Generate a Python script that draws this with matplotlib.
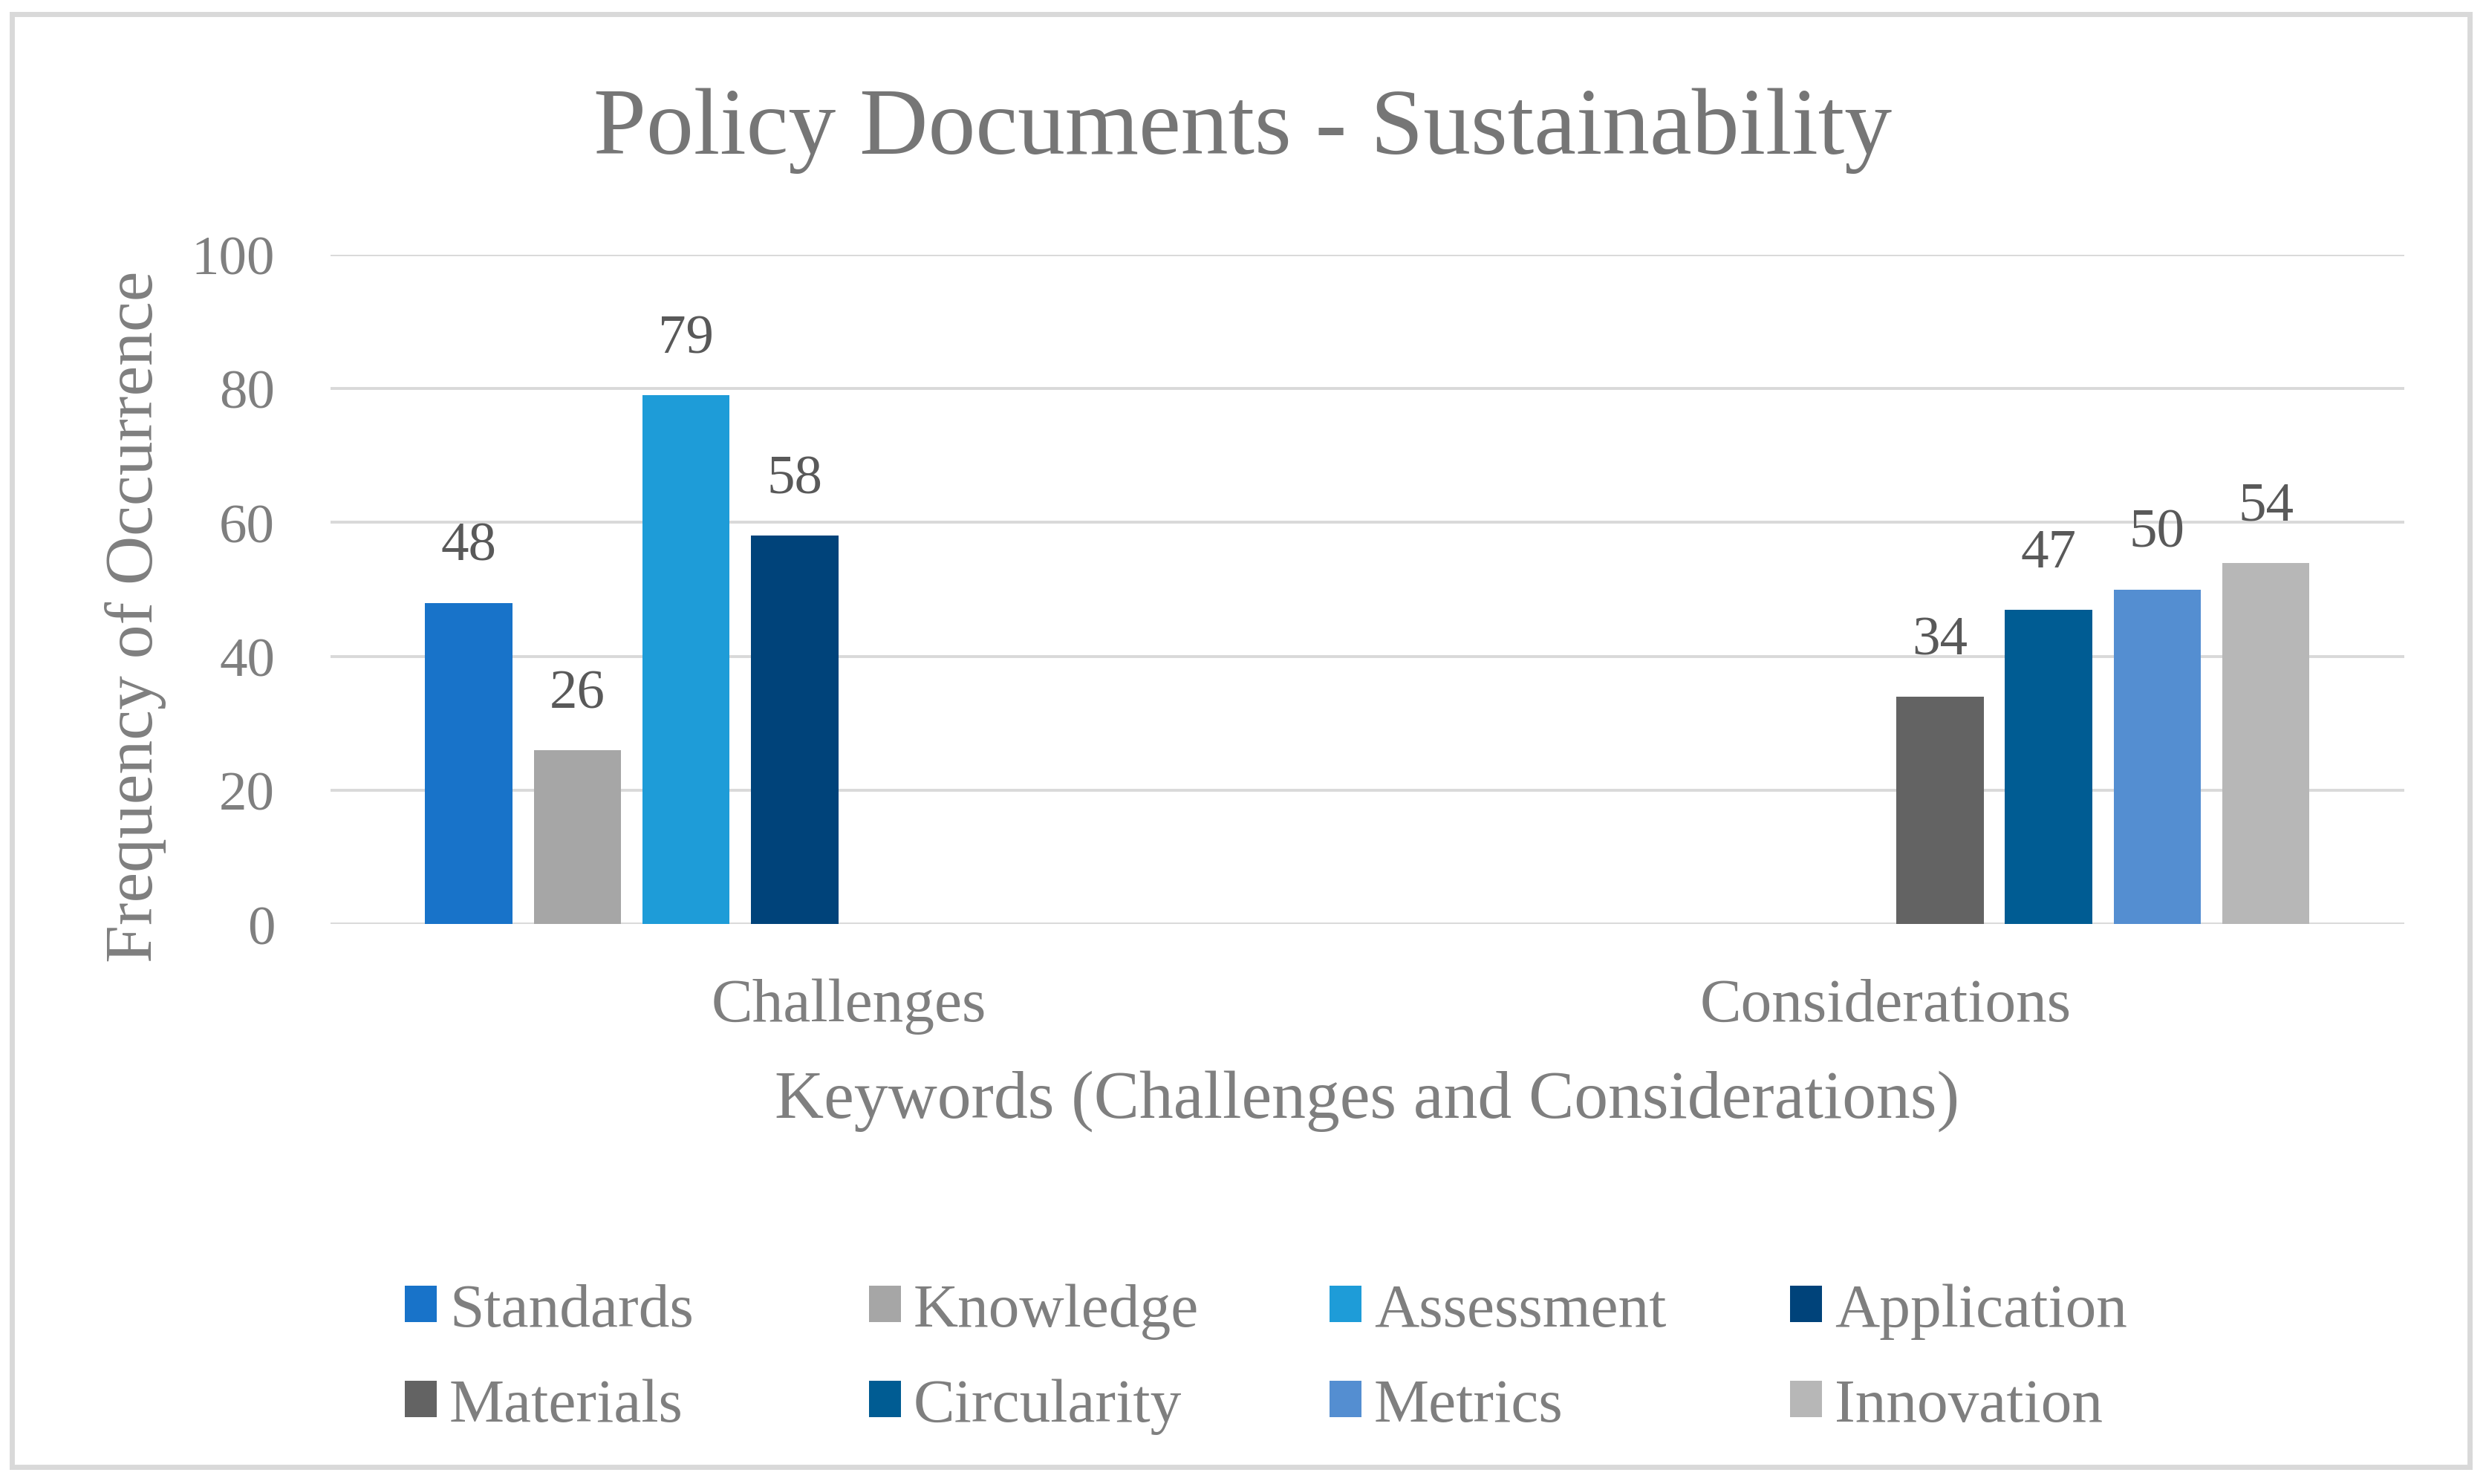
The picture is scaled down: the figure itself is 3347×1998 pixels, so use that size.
import numpy as np
import matplotlib
matplotlib.use("Agg")
import matplotlib.pyplot as plt
from matplotlib.patches import Patch, Rectangle

# data
categories = ["Challenges", "Considerations"]
series_names = ["Standards", "Knowledge", "Assessment", "Application",
                "Materials", "Circularity", "Metrics", "Innovation"]
standards = [48, np.nan]
knowledge = [26, np.nan]
assessment = [79, np.nan]
application = [58, np.nan]
materials = [np.nan, 34]
circularity = [np.nan, 47]
metrics = [np.nan, 50]
innovation = [np.nan, 54]
series_values = [standards, knowledge, assessment, application,
                 materials, circularity, metrics, innovation]
colors = ["#1873C9", "#A6A6A6", "#1E9CD8", "#00437A",
          "#636363", "#005C93", "#548ED1", "#B7B7B7"]

plt.rcParams['font.family'] = ['Liberation Serif', 'DejaVu Serif']

fig = plt.figure(figsize=(16.735, 9.995), dpi=200)
ax = fig.add_axes([0.133, 0.377, 0.834, 0.451])

x = np.arange(len(categories))
slot = 0.1048
width = 0.0842
for i, (name, vals, c) in enumerate(zip(series_names, series_values, colors)):
    xs = x + (i - 3.5) * slot
    ax.bar(xs, vals, width=width, color=c, label=name, zorder=3)
    for xi, v in zip(xs, vals):
        if not np.isnan(v):
            ax.annotate(f"{int(v)}", (xi, v), xytext=(0, 15), textcoords="offset points",
                        ha="center", va="bottom", fontsize=27, color="#595959")

ax.set_xlim(-0.5, 1.5)
ax.set_ylim(0, 100)
ax.set_yticks(range(0, 101, 20))
ax.set_xticks(x)
ax.set_xticklabels(categories)
ax.yaxis.grid(True, color="#D9D9D9", linewidth=1.4, zorder=0)
ax.set_axisbelow(True)
for s in ax.spines.values():
    s.set_visible(False)
ax.tick_params(axis="y", length=0, pad=27, labelsize=27, labelcolor="#7F7F7F")
ax.tick_params(axis="x", length=0, pad=26, labelsize=30, labelcolor="#7F7F7F")

ax.set_xlabel("Keywords (Challenges and Considerations)", fontsize=33, color="#7F7F7F")
ax.xaxis.set_label_coords(0.5, -0.263)
ax.xaxis.label.set_va("center")
ax.set_ylabel("Frequency of Occurrence", fontsize=33, color="#7F7F7F")
ax.yaxis.set_label_coords(-0.0941, 0.46)
ax.yaxis.label.set_va("center")

fig.text(0.5, 0.912, "Policy Documents - Sustainability", ha="center", va="center",
         fontsize=46, color="#767676")

# legend, one column at a time so the columns sit evenly
col_x = [545 / 3347, 1170 / 3347, 1790 / 3347, 2410 / 3347]
for j in range(4):
    hs = [Patch(facecolor=colors[j]), Patch(facecolor=colors[j + 4])]
    labs = [series_names[j], series_names[j + 4]]
    fig.legend(hs, labs, loc="center left", bbox_to_anchor=(col_x[j], 0.0845),
               frameon=False, fontsize=30, handlelength=0.52, handleheight=0.52,
               handletextpad=0.2, borderpad=0, borderaxespad=0, labelspacing=0.63,
               labelcolor="#7F7F7F")

fig.patches.append(Rectangle((0.0048, 0.0113), 0.9886, 0.9789, transform=fig.transFigure,
                             fill=False, edgecolor="#D9D9D9", linewidth=2.5))

fig.savefig("out.png", dpi=200)
